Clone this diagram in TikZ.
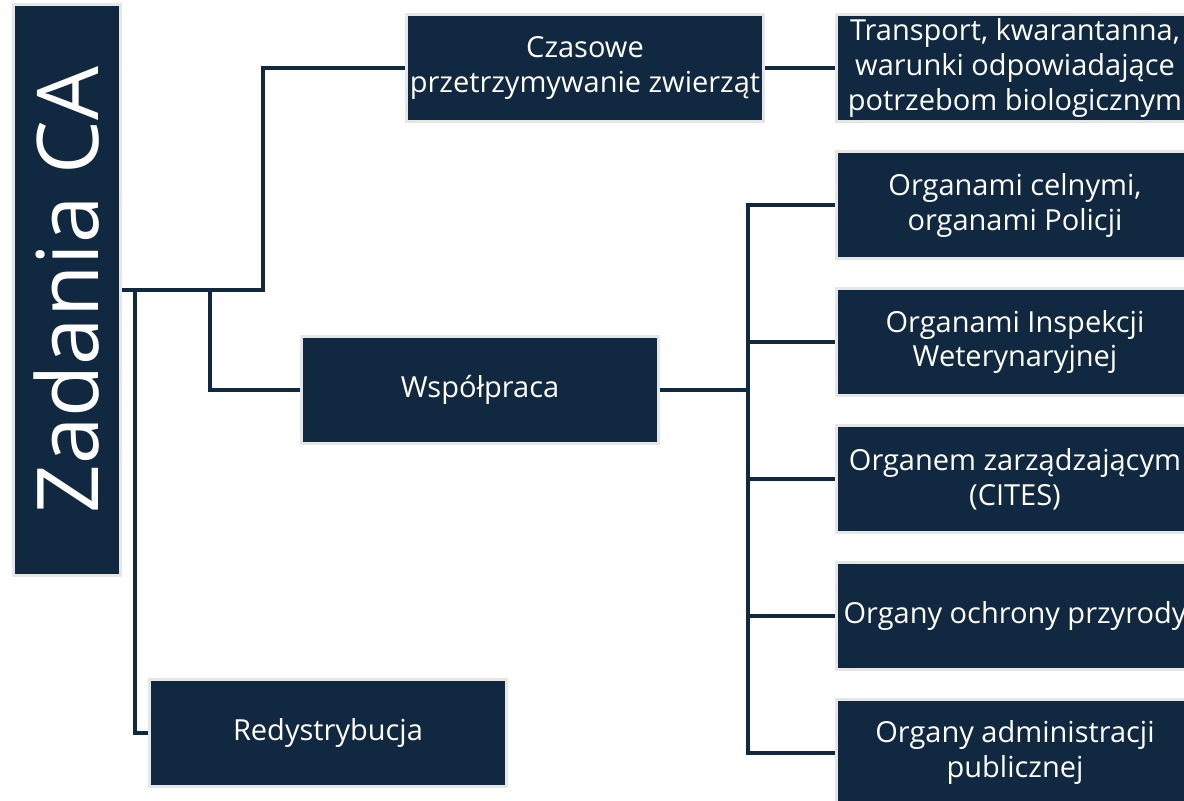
\documentclass[tikz,border=0pt]{standalone}
\usepackage{fontspec}
\setmainfont{Open Sans}
\definecolor{mynavy}{RGB}{16,40,64}
\definecolor{mygrey}{RGB}{230,230,230}
\usetikzlibrary{positioning,calc}

\begin{document}
\begin{tikzpicture}[x=0.02cm,y=-0.02cm,
    every node/.style={draw=mygrey,line width=0.06cm,fill=mynavy,text=white,align=center},
    box/.style={minimum width=7.16cm,minimum height=2.14cm,inner sep=1pt,
        font=\fontsize{16.5}{19.9}\selectfont},
    link/.style={draw=mynavy,line width=0.07cm},
    node distance=2.74cm
    ]
    \clip (0,0) rectangle (1184,801);
    \fill[white] (0,0) rectangle (1184,801);

    \node (zad) [minimum width=2.14cm,minimum height=11.44cm,inner sep=0pt,
        font=\fontsize{48.5}{52}\selectfont] at (67,290) {\rotatebox{90}{Zadania CA}};
    \node (czas) [box] at (585,68) {Czasowe\\przetrzymywanie zwierząt};
    \node (wsp) [box] at (480,390) {Współpraca};
    \node (red) [box] at (328,733) {Redystrybucja};
    \node (trans) [box] at (1015,68) {Transport, kwarantanna,\\warunki odpowiadające\\potrzebom biologicznym};
    \node (org1) [box] at (1015,205) {Organami celnymi,\\organami Policji};
    \node (org2) [box,below of=org1] {Organami Inspekcji\\Weterynaryjnej};
    \node (org3) [box,below of=org2] {Organem zarządzającym\\(CITES)};
    \node (org4) [box,below of=org3] {Organy ochrony przyrody};
    \node (org5) [box,below of=org4] {Organy administracji\\publicznej};

    % the edges
    \coordinate (f1) at (263,290);
    \coordinate (f2) at (210,290);
    \coordinate (f3) at (135,290);
    \coordinate (bus) at (748,390);
    \draw[link] (zad.east) -- (f1) |- (czas.west);
    \draw[link] (f2) |- (wsp.west);
    \draw[link] (f3) |- (red.west);
    \draw[link] (czas) -- (trans);
    \draw[link] (wsp) -- (bus);
    \foreach \n in {org1,org2,org3,org4,org5}
        \draw[link] (bus) |- (\n.west);
\end{tikzpicture}
\end{document}
